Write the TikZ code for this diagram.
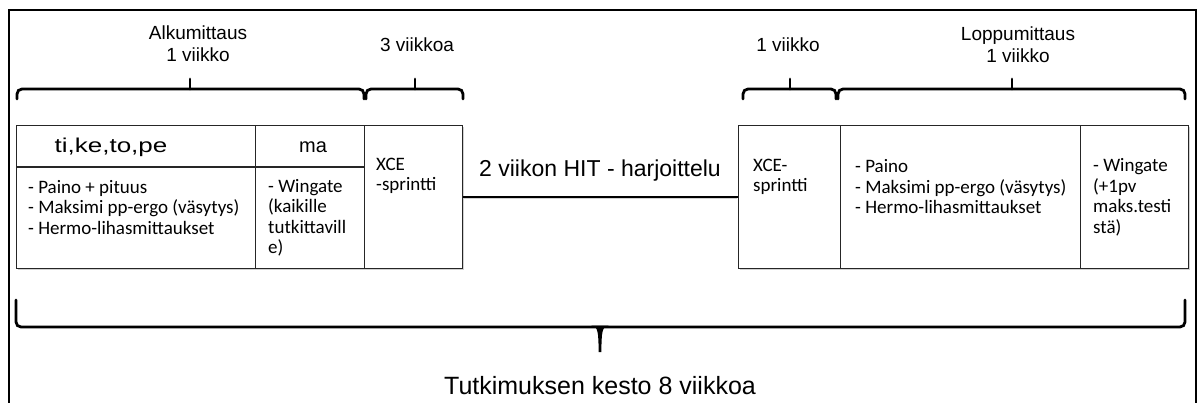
\documentclass[tikz,border=0pt]{standalone}
\usepackage{graphicx}
\usepackage{fontspec}
\setmainfont{Liberation Sans}
\newfontfamily\calfont{Carlito}
\usetikzlibrary{shadows}
\begin{document}
\begin{tikzpicture}[x=1pt,y=-1pt,
  frame/.style={line width=2.4pt},
  br/.style={line width=2.8pt, rounded corners=5pt, line cap=round},
  box/.style={draw=black!85, fill=white, line width=1.2pt, anchor=north west, inner sep=0pt, minimum height=143pt,
    general shadow={fill=black!18, shadow xshift=1.2pt, shadow yshift=-1.6pt}},
  lbl/.style={font=\fontsize{19}{22}\selectfont, align=center, inner sep=0pt},
  body/.style={font=\calfont\fontsize{19}{20.5}\selectfont, align=left, anchor=west, inner sep=0pt},
  hdr/.style={font=\fontsize{20}{22}\selectfont, inner sep=0pt},
]
\useasboundingbox (0,0) rectangle (1198,403);
% outer frame
\draw[frame] (9,405) -- (9,10) -- (1196,10) -- (1196,405);
% top braces
\draw[br] (17,99) -- (17,89) -- (364,89) -- (364,99);
\draw[br] (190,89) -- (190,79);
\draw[br] (366,99) -- (366,89) -- (463,89) -- (463,99);
\draw[br] (415,89) -- (415,79);
\draw[br] (743,99) -- (743,89) -- (836,89) -- (836,99);
\draw[br] (790,89) -- (790,79);
\draw[br] (838,99) -- (838,89) -- (1185,89) -- (1185,99);
\draw[br] (1012,89) -- (1012,79);
% top labels
\node[lbl] (l1) at (198,44) {Alkumittaus\\1 viikko};
\node[lbl] (l2) at (417,45) {3 viikkoa};
\node[lbl] (l3) at (788,45) {1 viikko};
\node[lbl] (l4) at (1018,45) {Loppumittaus\\1 viikko};
% HIT connector shadow
\draw[black!18, line width=2.6pt] ([yshift=-1.6pt]464,196.5) -- ([yshift=-1.6pt]737,196.5);
% boxes
\node[box, minimum width=239pt] (b1) at (16,125) {};
\node[box, minimum width=109pt] (b2) at (255,125) {};
\node[box, minimum width=98pt] (b3) at (364,125) {};
\node[box, minimum width=102pt] (b4) at (738,125) {};
\node[box, minimum width=240pt] (b5) at (840,125) {};
\node[box, minimum width=108pt] (b6) at (1080,125) {};
\coordinate (hl) at (16,167);
\draw[draw=black!85, line width=1.2pt] (hl) -- (hl -| b2.east);
\draw[line width=2.6pt] (b3.east) -- (b4.west);
% headers
\node[hdr] (h1) at (111,147) {\scalebox{1.3}[1]{ti,ke,to,pe}};
\node[hdr] (h2) at (313,147) {ma};
% body texts
\node[body] (t1) at (28,207.5) {- Paino + pituus\\- Maksimi pp-ergo (väsytys)\\- Hermo-lihasmittaukset};
\node[body] (t2) at (268,217.75) {- Wingate\\(kaikille\\tutkittavill\\e)};
\node[body] (t3) at (376,176) {XCE\\-sprintti};
\node[body] (t4) at (753,177) {XCE-\\sprintti};
\node[body] (t5) at (855,187) {- Paino\\- Maksimi pp-ergo (väsytys)\\- Hermo-lihasmittaukset};
\node[body] (t6) at (1093,197.5) {- Wingate\\(+1pv\\maks.testi\\stä)};
\node[font=\fontsize{23}{27}\selectfont, inner sep=0pt] (hit) at (600,171) {2 viikon HIT - harjoittelu};
% bottom brace
\draw[br] (16,300) -- (16,327) -- (1185,327) -- (1185,300);
\fill (591,325.6) .. controls (598,326) and (598.5,332) .. (598.6,352) -- (601.4,352) .. controls (601.5,332) and (602,326) .. (609,325.6) -- cycle;
\node[font=\fontsize{25}{30}\selectfont, inner sep=0pt] (tot) at (600,386) {Tutkimuksen kesto 8 viikkoa};
\end{tikzpicture}
\end{document}
